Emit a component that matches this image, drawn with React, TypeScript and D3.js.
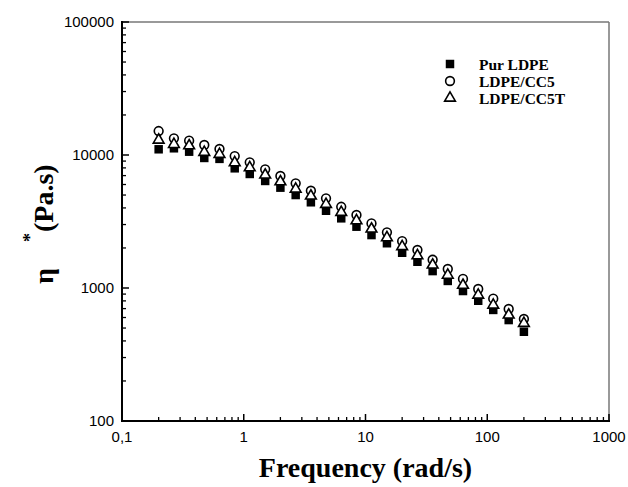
import React from "react";
import * as d3 from "d3";

const freq = [0.2, 0.267, 0.356, 0.474, 0.632, 0.843, 1.12, 1.5, 2, 2.67, 3.56, 4.74, 6.32, 8.43, 11.2, 15, 20, 26.7, 35.6, 47.4, 63.2, 84.3, 112, 150, 200];
const purLDPE = [11040, 11230, 10590, 9500, 9350, 7940, 7200, 6380, 5680, 5000, 4410, 3810, 3340, 2890, 2500, 2170, 1840, 1575, 1340, 1130, 949, 802, 684, 574, 469];
const ldpeCC5 = [15140, 13340, 12820, 11890, 11100, 9820, 8810, 7800, 6950, 6120, 5390, 4720, 4080, 3540, 3060, 2620, 2250, 1930, 1630, 1390, 1170, 983, 831, 695, 585];
const ldpeCC5T = [12970, 12030, 11750, 10480, 10120, 8760, 8030, 7080, 6300, 5550, 4920, 4260, 3710, 3210, 2780, 2390, 2050, 1750, 1490, 1250, 1050, 885, 745, 627, 543];

const seriesNames = ["Pur LDPE", "LDPE/CC5", "LDPE/CC5T"];
const xTickValues = [0.1, 1, 10, 100, 1000];
const xTickLabels = ["0,1", "1", "10", "100", "1000"];
const yTickValues = [100, 1000, 10000, 100000];
const yTickLabels = ["100", "1000", "10000", "100000"];

const W = 628, H = 487;
const L = 122, R = 609, T = 22, B = 421;

export default function App() {
  const x = d3.scaleLog().domain([0.1, 1000]).range([L, R]);
  const y = d3.scaleLog().domain([100, 100000]).range([B, T]);

  const xMinor: number[] = [];
  for (let d = 0.1; d < 999; d *= 10) for (let k = 2; k <= 9; k++) xMinor.push(d * k);
  const yMinor: number[] = [];
  for (let d = 100; d < 99999; d *= 10) for (let k = 2; k <= 9; k++) yMinor.push(d * k);

  const sq = d3.symbol().type(d3.symbolSquare).size(72)()!;
  const circ = d3.symbol().type(d3.symbolCircle).size(60)()!;
  const tri = d3.symbol().type(d3.symbolTriangle).size(50)()!;

  const tickFont = { fontFamily: "'Liberation Sans', Arial, sans-serif", fontSize: 15 };
  const serif = "'Liberation Serif', 'Times New Roman', serif";

  const markers = [
    { path: sq, fill: "#000", stroke: "none" },
    { path: circ, fill: "#fff", stroke: "#000" },
    { path: tri, fill: "#fff", stroke: "#000" },
  ];
  const data = [purLDPE, ldpeCC5, ldpeCC5T];

  return (
    <svg width={W} height={H} style={{ position: "absolute", left: 0, top: 0, background: "#fff" }}>
      <rect x={0} y={0} width={W} height={H} fill="#fff" />
      <line x1={L} y1={T} x2={R} y2={T} stroke="#777" strokeWidth={1.5} />
      <line x1={R} y1={T} x2={R} y2={B} stroke="#777" strokeWidth={1.5} />
      {xMinor.map((v, i) => (
        <line key={"xm" + i} x1={x(v)} x2={x(v)} y1={B} y2={B - 4} stroke="#000" strokeWidth={1.3} />
      ))}
      {xTickValues.map((v, i) => (
        <g key={"xt" + i}>
          <line x1={x(v)} x2={x(v)} y1={B} y2={B - 7} stroke="#000" strokeWidth={1.5} />
          <text x={x(v)} y={B + 21} textAnchor="middle" {...tickFont} fill="#000">{xTickLabels[i]}</text>
        </g>
      ))}
      {yMinor.map((v, i) => (
        <line key={"ym" + i} x1={L} x2={L + 4} y1={y(v)} y2={y(v)} stroke="#000" strokeWidth={1.3} />
      ))}
      {yTickValues.map((v, i) => (
        <g key={"yt" + i}>
          <line x1={L} x2={L + 7} y1={y(v)} y2={y(v)} stroke="#000" strokeWidth={1.5} />
          <text x={L - 8} y={y(v) + 5} textAnchor="end" {...tickFont} fill="#000">{yTickLabels[i]}</text>
        </g>
      ))}
      <line x1={L} y1={T - 1} x2={L} y2={B + 1} stroke="#000" strokeWidth={2} />
      <line x1={L - 1} y1={B} x2={R + 1} y2={B} stroke="#000" strokeWidth={2} />
      {data.map((vals, s) => (
        <g key={"s" + s}>
          {vals.map((v, i) => (
            <path key={i} d={markers[s].path} transform={`translate(${x(freq[i])},${y(v)})`}
              fill={markers[s].fill} stroke={markers[s].stroke} strokeWidth={1.6} />
          ))}
        </g>
      ))}
      {seriesNames.map((n, i) => (
        <g key={"lg" + i} transform={`translate(0,${64 + i * 17})`}>
          <path d={markers[i].path} transform="translate(450,0)" fill={markers[i].fill} stroke={markers[i].stroke} strokeWidth={1.6} />
          <text x={479} y={6} fontFamily={serif} fontWeight="bold" fontSize={15.5} fill="#000">{n}</text>
        </g>
      ))}
      <text x={(L + R) / 2} y={477} textAnchor="middle" fontFamily={serif} fontWeight="bold" fontSize={28} fill="#000">
        Frequency (rad/s)
      </text>
      <g transform="translate(53,0) rotate(-90)">
        <text x={-284} y={0} fontFamily={serif} fontWeight="bold" fontSize={28} fill="#000">η</text>
        <text x={-242} y={-17} fontFamily={serif} fontWeight="bold" fontSize={18} fill="#000">*</text>
        <text x={-232} y={0} fontFamily={serif} fontWeight="bold" fontSize={28} fill="#000">(Pa.s)</text>
      </g>
    </svg>
  );
}
